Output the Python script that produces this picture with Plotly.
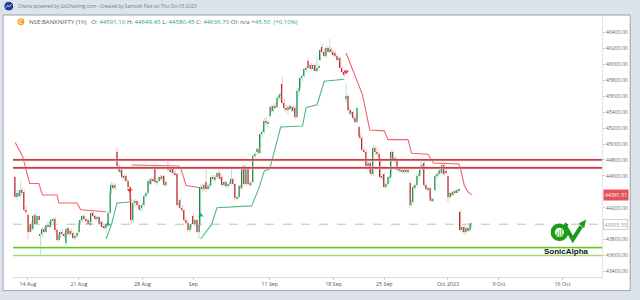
import base64
import plotly.graph_objects as go

# ---------------- data ----------------
opens = [44580,44340,44380,44350,44420,44400,44170,
 44110,43900,43990,43930,44110,44000,44090,
 43850,43870,43930,43900,43980,43960,44020,
 44040,44060,43920,43800,43860,43900,43870,
 43760,43940,43870,43910,43880,43820,43850,
 43890,44010,44040,44090,44060,44040,43990,
 44020,44140,44100,44060,44080,44000,44020,
 43960,43950,43980,44140,44390,44490,44450,
 44900,44730,44660,44680,44580,44600,44540,
 44460,44300,44040,44260,44290,44240,44180,
 44200,44230,44350,44380,44540,44500,44560,
 44710,44520,44540,44590,44560,44600,44480,
 44700,44680,44660,44700,44640,44620,44240,
 44300,44200,44170,44050,44010,43920,43970,
 44100,44000,44040,43900,43980,44460,44440,
 44520,44430,44470,44500,44590,44560,44580,
 44630,44600,44580,44490,44520,44470,44500,
 44520,44560,44500,44320,44330,44470,44450,
 44720,44500,44700,44500,44490,44520,44850,
 44900,44940,44890,45120,45150,45290,45260,
 45350,45460,45420,45480,45460,45580,45600,
 45760,45520,45450,45430,45480,45440,45460,
 45450,45340,45660,45700,45830,45850,45940,
 46040,45960,45990,45940,45990,45920,45950,
 46060,46220,46160,46110,46200,46160,46190,
 46150,46140,46110,46060,46080,45950,45910,
 45560,45600,45430,45380,45400,45330,45280,
 45220,45100,45080,44930,44900,44720,44760,
 44700,44620,44950,44900,44870,44800,44580,
 44620,44460,44500,44580,44600,44900,44800,
 44800,44670,44700,44660,44680,44650,44670,
 44510,44240,44270,44460,44480,44600,44620,
 44700,44760,44490,44430,44450,44310,44290,
 44420,44600,44620,44660,44640,44740,44660,
 44600,44330,44380,44360,44400,44390,44420,
 44150,43920,43960,43890,43940,43920,43990]
highs = [44600,44420,44420,44540,44450,44430,44220,
 44130,44000,44020,44120,44140,44100,44100,
 43880,43950,43960,44000,44030,44040,44060,
 44070,44080,43950,43880,43920,43930,43900,
 43950,43960,43930,43940,43900,43870,43900,
 44030,44060,44110,44120,44090,44060,44030,
 44160,44150,44120,44100,44100,44040,44040,
 43990,44000,44160,44410,44520,44520,44510,
 44950,44760,44700,44700,44620,44620,44560,
 44480,44320,44300,44310,44300,44260,44230,
 44260,44370,44400,44560,44570,44580,44590,
 44730,44560,44600,44620,44610,44620,44540,
 44790,44720,44720,44710,44670,44640,44300,
 44320,44230,44180,44080,44040,43990,44010,
 44130,44060,44060,44000,44490,44500,44500,
 44700,44500,44520,44610,44620,44610,44650,
 44680,44640,44600,44540,44540,44510,44540,
 44720,44580,44510,44350,44490,44500,44730,
 44740,44730,44720,44540,44530,44880,44900,
 44960,44960,45150,45180,45320,45340,45300,
 45480,45490,45500,45520,45600,45620,45650,
 45840,45580,45500,45480,45500,45480,45490,
 45480,45700,45720,45860,45880,45960,45980,
 46080,46010,46020,46010,46000,46090,46000,
 46200,46260,46200,46220,46230,46320,46220,
 46180,46170,46130,46100,46090,45980,45930,
 45760,45620,45460,45420,45420,45360,45480,
 45240,45140,45100,44960,44920,44790,44780,
 44720,44990,44980,44960,44900,44820,44620,
 44650,44520,44600,44620,44930,44920,44850,
 44830,44720,44720,44700,44700,44690,44690,
 44540,44300,44490,44500,44620,44640,44780,
 44760,44790,44510,44470,44460,44330,44330,
 44620,44640,44680,44700,44760,44760,44720,
 44620,44400,44410,44420,44430,44440,44450,
 44170,43990,43980,43960,43970,44010,44020]
lows = [44330,44300,44330,44330,44360,44150,44120,
 43800,43880,43900,43910,43990,43980,44040,
 43600,43840,43880,43880,43950,43940,43990,
 44000,43900,43780,43770,43820,43850,43820,
 43690,43850,43840,43860,43800,43790,43820,
 43870,43980,44020,44040,44010,43980,43970,
 44000,44080,44040,44030,43980,43960,43940,
 43920,43880,43960,44130,44370,44430,44420,
 44700,44640,44620,44560,44540,44520,44440,
 44260,43990,44020,44220,44220,44160,44150,
 44160,44210,44320,44360,44480,44490,44520,
 44500,44480,44520,44540,44530,44460,44460,
 44650,44640,44630,44620,44600,44220,44200,
 44190,44150,44030,43990,43900,43890,43940,
 43990,43960,43880,43810,43970,44400,44410,
 44400,44420,44440,44480,44540,44520,44560,
 44560,44540,44470,44460,44450,44440,44470,
 44490,44480,44300,44290,44320,44420,44430,
 44470,44480,44480,44460,44470,44510,44820,
 44860,44870,44880,45080,45130,45230,45200,
 45330,45400,45390,45440,45440,45540,45540,
 45500,45420,45400,45380,45420,45400,45400,
 45310,45320,45600,45680,45780,45830,45900,
 45940,45930,45920,45920,45900,45900,45920,
 46040,46140,46090,46080,46140,46140,46130,
 46100,46090,46040,46030,45940,45880,45840,
 45520,45410,45370,45350,45310,45260,45270,
 45080,45050,44910,44880,44700,44660,44630,
 44590,44600,44860,44850,44780,44560,44540,
 44440,44440,44480,44520,44580,44780,44760,
 44650,44640,44640,44630,44630,44630,44630,
 44200,44220,44250,44430,44460,44560,44600,
 44660,44460,44410,44400,44290,44270,44260,
 44400,44560,44590,44620,44620,44600,44610,
 44270,44310,44340,44340,44370,44380,44400,
 43900,43880,43860,43870,43900,43900,43950]
closes = [44340,44380,44350,44420,44380,44170,44150,
 43900,43980,43930,44100,44000,44090,44050,
 43870,43930,43900,43980,43960,44020,44040,
 44060,43920,43800,43860,43900,43870,43840,
 43930,43870,43910,43880,43820,43850,43880,
 44010,44040,44090,44060,44030,43990,44010,
 44140,44100,44060,44080,44000,44020,43960,
 43950,43980,44140,44390,44490,44450,44480,
 44730,44660,44680,44580,44600,44540,44460,
 44300,44040,44260,44290,44240,44180,44200,
 44230,44350,44380,44540,44500,44560,44540,
 44520,44540,44590,44560,44600,44480,44520,
 44680,44660,44700,44640,44620,44240,44260,
 44200,44170,44050,44010,43920,43970,44000,
 44000,44040,43900,43980,44460,44440,44480,
 44430,44470,44500,44590,44560,44580,44630,
 44600,44560,44490,44520,44470,44500,44520,
 44560,44500,44320,44330,44470,44450,44700,
 44500,44700,44500,44490,44510,44850,44870,
 44940,44890,45120,45150,45290,45260,45280,
 45460,45420,45480,45460,45580,45600,45630,
 45520,45450,45430,45460,45440,45460,45420,
 45340,45660,45700,45830,45850,45940,45960,
 45960,45990,45940,45990,45920,45950,45980,
 46180,46160,46110,46200,46160,46190,46150,
 46130,46110,46060,46080,45950,45910,45870,
 45600,45430,45380,45400,45330,45280,45450,
 45100,45080,44930,44900,44720,44760,44650,
 44620,44950,44900,44870,44800,44580,44600,
 44460,44500,44580,44600,44900,44800,44820,
 44670,44700,44660,44680,44650,44670,44650,
 44240,44270,44460,44480,44600,44620,44680,
 44740,44490,44430,44450,44310,44290,44300,
 44600,44620,44660,44680,44740,44620,44640,
 44330,44380,44360,44400,44390,44420,44430,
 43920,43960,43890,43940,43920,43990,43993.30]

trading_days = ["2023-08-11","2023-08-14","2023-08-16","2023-08-17","2023-08-18",
 "2023-08-21","2023-08-22","2023-08-23","2023-08-24","2023-08-25",
 "2023-08-28","2023-08-29","2023-08-30","2023-08-31","2023-09-01",
 "2023-09-04","2023-09-05","2023-09-06","2023-09-07","2023-09-08",
 "2023-09-11","2023-09-12","2023-09-13","2023-09-14","2023-09-15",
 "2023-09-18","2023-09-20","2023-09-21","2023-09-22",
 "2023-09-25","2023-09-26","2023-09-27","2023-09-28","2023-09-29",
 "2023-10-03","2023-10-04","2023-10-05","2023-10-06",
 "2023-10-09","2023-10-10","2023-10-11","2023-10-12","2023-10-13","2023-10-16"]
bars_per_day = 7
tick_days = ["2023-08-14","2023-08-21","2023-08-28","2023-09-01","2023-09-11",
             "2023-09-18","2023-09-25","2023-10-03","2023-10-09","2023-10-16"]
tick_labels = ["14 Aug","21 Aug","28 Aug","Sep","11 Sep","18 Sep","25 Sep","Oct 2023","9 Oct","16 Oct"]

# supertrend (bar index, value); None breaks the line between trend regimes
st_red_bar = [0,4,8,13,15,23,24,34,36,50, None, 64,90,91,94,101, None,
              182,187,189,191,195,203,205,216,218,227,230,244,245,247,249,251]
st_red_val = [45020,44850,44505,44505,44360,44360,44260,44260,44175,44150, None,
              44737,44725,44700,44480,44455, None,
              46143,45862,45727,45617,45177,45165,45055,45055,44884,44871,44761,44749,44680,44480,44400,44361.51]
st_green_bar = [50,53,56,63, None, 102,108,111,130,134,137,140,146,158,160,166,170,181]
st_green_val = [43807,43991,44260,44272, None,
                43807,43991,44199,44223,44443,44663,44688,45214,45226,45458,45494,45788,45813]
buy_bar = [51, 102]
buy_val = [43991, 44105]
sell_bar = [63, 182]
sell_val = [44419, 45907]

resistance_levels = [44800, 44700]
support_levels = [43700, 43600]
# 44400 and 44000 are hidden behind the price tags in the reference
y_ticks = [43400,43600,43800,44200,44600,44800,45000,45200,
           45400,45600,45800,46000,46200,46400]
supertrend_last = 44361.51

# ---------------- figure ----------------
FONT = "Open Sans"
W, H = 640, 300
ML, MR, MT, MB = 13, 32, 16, 16
PW, PH = W - ML - MR, H - MT - MB

def px(xp):
    return (xp - ML) / PW

def py(yp):
    return (H - MB - yp) / PH

idx = list(range(len(closes)))
inc_w_x, inc_w_y, dec_w_x, dec_w_y = [], [], [], []
for i in idx:
    if closes[i] >= opens[i]:
        inc_w_x += [i, i, None]; inc_w_y += [lows[i], highs[i], None]
    else:
        dec_w_x += [i, i, None]; dec_w_y += [lows[i], highs[i], None]
body_base = [min(o, c) for o, c in zip(opens, closes)]
body_h = [max(abs(c - o), 8) for o, c in zip(opens, closes)]
body_col = ["#1f8a4e" if c >= o else "#b3262b" for o, c in zip(opens, closes)]

fig = go.Figure()
fig.add_trace(go.Scatter(x=inc_w_x, y=inc_w_y, mode="lines",
                         line=dict(color="#b4e4c8", width=1), hoverinfo="skip"))
fig.add_trace(go.Scatter(x=dec_w_x, y=dec_w_y, mode="lines",
                         line=dict(color="#f6c0c2", width=1), hoverinfo="skip"))
fig.add_trace(go.Bar(x=idx, y=body_h, base=body_base, width=0.8,
                     marker=dict(color=body_col, line=dict(width=0)), hoverinfo="skip"))
fig.add_trace(go.Scatter(x=st_red_bar, y=st_red_val, mode="lines",
                         line=dict(color="#f0646d", width=1.1), connectgaps=False, hoverinfo="skip"))
fig.add_trace(go.Scatter(x=st_green_bar, y=st_green_val, mode="lines",
                         line=dict(color="#4fb884", width=1.1), connectgaps=False, hoverinfo="skip"))
fig.add_trace(go.Scatter(x=buy_bar, y=buy_val, mode="markers",
                         marker=dict(symbol="triangle-up", size=5, color="#26a69a"), hoverinfo="skip"))
fig.add_trace(go.Scatter(x=sell_bar, y=sell_val, mode="markers",
                         marker=dict(symbol="triangle-down", size=5, color="#e53935"), hoverinfo="skip"))

shapes = []
# panel
shapes.append(dict(type="rect", xref="paper", yref="paper", x0=px(3), x1=px(636.5),
                   y0=py(298), y1=py(15), fillcolor="white",
                   line=dict(color="#9aa3ad", width=1), layer="below"))
# last price dashed line
shapes.append(dict(type="line", xref="paper", yref="y", x0=0, x1=1,
                   y0=closes[-1], y1=closes[-1], line=dict(color="#bdbdbd", width=1, dash="dash"), layer="below"))
for lv in resistance_levels:
    shapes.append(dict(type="line", xref="paper", yref="y", x0=0, x1=1, y0=lv, y1=lv,
                       line=dict(color="#f6cdd0", width=2.6)))
    shapes.append(dict(type="line", xref="paper", yref="y", x0=0, x1=1, y0=lv, y1=lv,
                       line=dict(color="#b5121b", width=1.2)))
sup_cols = [("#d3f1bf", "#62c42e"), ("#def4cf", "#a0da70")]
for lv, (halo, core) in zip(support_levels, sup_cols):
    shapes.append(dict(type="line", xref="paper", yref="y", x0=0, x1=1, y0=lv, y1=lv,
                       line=dict(color=halo, width=2.4)))
    shapes.append(dict(type="line", xref="paper", yref="y", x0=0, x1=1, y0=lv, y1=lv,
                       line=dict(color=core, width=1.2)))

def svg_uri(svg):
    return "data:image/svg+xml;base64," + base64.b64encode(svg.encode()).decode()

logo_svg = ("<svg xmlns='http://www.w3.org/2000/svg' viewBox='0 0 40 27'>"
            "<circle cx='9' cy='16' r='6.8' fill='none' stroke='#1c9a1c' stroke-width='4.4'/>"
            "<rect x='6' y='16' width='1.6' height='5' fill='#86d65e'/>"
            "<rect x='8.3' y='14' width='1.6' height='7' fill='#86d65e'/>"
            "<rect x='10.6' y='12' width='1.6' height='9' fill='#86d65e'/>"
            "<path d='M14.5 10.5 L16.5 7 M15 10 L22.5 23.5 L31 10' fill='none' stroke='#1c9a1c' "
            "stroke-width='4' stroke-linejoin='miter'/>"
            "<polygon points='36,3 28.5,7 34,12' fill='#1c9a1c'/></svg>")
gc_svg = ("<svg xmlns='http://www.w3.org/2000/svg' viewBox='0 0 20 20'>"
          "<circle cx='10' cy='10' r='9.5' fill='#1f3d8f'/>"
          "<polyline points='4,13 8,8 11,11 16,6' fill='none' stroke='white' stroke-width='1.8'/></svg>")
coin_svg = ("<svg xmlns='http://www.w3.org/2000/svg' viewBox='0 0 20 20'>"
            "<circle cx='10' cy='10' r='9.5' fill='#f2a41d'/>"
            "<path d='M13.5 6.5 A5 5 0 1 0 13.5 13.5' fill='none' stroke='white' stroke-width='2.4'/></svg>")
images = [
    dict(source=svg_uri(logo_svg), xref="paper", yref="paper", x=px(556), y=py(222),
         sizex=40 / PW, sizey=27 / PH, xanchor="left", yanchor="top", sizing="stretch", layer="above"),
    dict(source=svg_uri(gc_svg), xref="paper", yref="paper", x=px(4), y=py(1.2),
         sizex=9.5 / PW, sizey=9.5 / PH, xanchor="left", yanchor="top", sizing="stretch", layer="above"),
    dict(source=svg_uri(coin_svg), xref="paper", yref="paper", x=px(17.3), y=py(18.2),
         sizex=7.5 / PW, sizey=7.5 / PH, xanchor="left", yanchor="top", sizing="stretch", layer="above"),
]

gr, lab = "#2ea36f", "#5a5a5a"
legend_html = (f"<span style='color:{lab}'>NSE:BANKNIFTY (1h)   O: </span><span style='color:{gr}'>44591.10</span>"
               f"<span style='color:{lab}'> H: </span><span style='color:{gr}'>44649.45</span>"
               f"<span style='color:{lab}'> L: </span><span style='color:{gr}'>44580.45</span>"
               f"<span style='color:{lab}'> C: </span><span style='color:{gr}'>44636.70</span>"
               f"<span style='color:{lab}'> OI: n/a </span><span style='color:{gr}'>+45.50  (+0.10%)</span>")

annotations = [
    dict(text="Charts powered by GoCharting.com - Created by Santosh Pasi on Thu Oct 05 2023",
         xref="paper", yref="paper", x=px(16), y=py(6), xanchor="left", yanchor="middle",
         showarrow=False, font=dict(family=FONT, size=4.7, color="#6f7b88")),
    dict(text=legend_html, xref="paper", yref="paper", x=px(27.5), y=py(22), xanchor="left",
         yanchor="middle", showarrow=False, font=dict(family=FONT, size=6.1, color=lab)),
    dict(text=f"{supertrend_last:.2f}", xref="paper", yref="y", x=1, y=supertrend_last,
         xanchor="left", yanchor="middle", xshift=1, showarrow=False, bgcolor="#e5505a",
         borderpad=1, font=dict(family=FONT, size=5.2, color="white")),
    dict(text=f"{closes[-1]:.2f}", xref="paper", yref="y", x=1, y=closes[-1],
         xanchor="left", yanchor="middle", xshift=1, showarrow=False, bgcolor="white",
         bordercolor="#cfcfcf", borderwidth=1, borderpad=0.5,
         font=dict(family=FONT, size=5.2, color="#9a9a9a")),
    dict(text="<b>SonicAlpha</b>", xref="paper", yref="paper", x=px(572), y=py(257.5),
         xanchor="center", yanchor="middle", showarrow=False,
         font=dict(family="Liberation Sans", size=8, color="#111")),
]

tick_pos = [trading_days.index(d) * bars_per_day for d in tick_days]

fig.update_layout(
    width=W, height=H, autosize=False,
    margin=dict(l=ML, r=MR, t=MT, b=MB, pad=0),
    paper_bgcolor="#dce3eb", plot_bgcolor="white",
    showlegend=False, hovermode=False, bargap=0,
    shapes=shapes, images=images, annotations=annotations,
    font=dict(family=FONT),
    xaxis=dict(range=[-1.2, 322.7], tickvals=tick_pos, ticktext=tick_labels,
               showgrid=False, zeroline=False, showline=True, linecolor="#dcdcdc", linewidth=1,
               ticks="outside", ticklen=2, tickcolor="#cccccc",
               tickfont=dict(family=FONT, size=5.3, color="#555")),
    yaxis=dict(range=[43330, 46608], side="right", tickvals=y_ticks,
               ticktext=[f"{v:.2f}" for v in y_ticks],
               showgrid=False, zeroline=False, showline=True, linecolor="#e3e3e3", linewidth=1,
               ticks="outside", ticklen=2, tickcolor="#cccccc",
               tickfont=dict(family=FONT, size=5.1, color="#666")),
)

fig.write_html("out.html")
